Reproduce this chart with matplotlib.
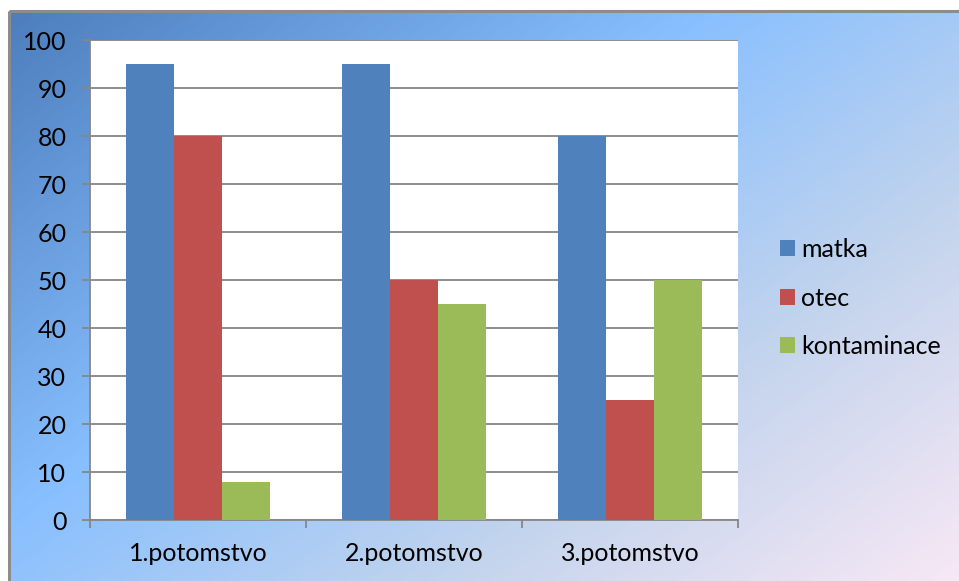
import numpy as np
import matplotlib
matplotlib.use("Agg")
import matplotlib.pyplot as plt
from matplotlib.colors import LinearSegmentedColormap

plt.rcParams['font.family'] = ['Lato', 'DejaVu Sans']

# data
categories = ["1.potomstvo", "2.potomstvo", "3.potomstvo"]
series     = ["matka", "otec", "kontaminace"]
matka       = [95, 95, 80]
otec        = [80, 50, 25]
kontaminace = [8, 45, 50]
colors = ["#4F81BD", "#C0504D", "#9BBB59"]

W, H = 959, 581
fig = plt.figure(figsize=(W / 100, H / 100), dpi=100)
fig.patch.set_facecolor("white")

# background gradient (whole chart box)
bg = fig.add_axes([0, 0, 1, 1], zorder=-1)
bg.set_xlim(0, W)
bg.set_ylim(H, 0)
bg.axis("off")
yy, xx = np.mgrid[0:H, 0:W]
t = (xx / W * 0.55 + yy / H * 0.45)
cmap = LinearSegmentedColormap.from_list("bg", [
    (0.0, (0.30, 0.49, 0.74)),
    (0.40, (0.53, 0.75, 1.0)),
    (0.70, (0.76, 0.83, 0.93)),
    (1.0, (0.97, 0.91, 0.96)),
])
bg.imshow(t, cmap=cmap, extent=(9, W, H, 11), aspect="auto", vmin=0, vmax=1)
bg.plot([9, 9], [H, 11], color="#8C8C8C", lw=2.2, solid_capstyle="butt")
bg.plot([9, W], [11, 11], color="#8C8C8C", lw=2.2, solid_capstyle="butt")

# plot area
ax = fig.add_axes([90 / W, (H - 520) / H, 648 / W, 480 / H])
ax.set_facecolor("white")

x = np.arange(len(categories))
bw = 1 / 4.5
for i, (name, vals) in enumerate(zip(series, [matka, otec, kontaminace])):
    ax.bar(x + (i - 1) * bw, vals, bw, color=colors[i], label=name, zorder=3)

ax.set_xlim(-0.5, len(categories) - 0.5)
ax.set_ylim(0, 100)
ax.set_yticks(range(0, 101, 10))
ax.grid(axis="y", color="#868686", lw=1.3, zorder=1)
ax.set_xticks(x)
ax.set_xticklabels(categories)
ax.set_xticks(np.arange(-0.5, len(categories)), minor=True)
ax.tick_params(axis="x", which="major", length=0, pad=16, labelsize=18)
ax.tick_params(axis="x", which="minor", length=6, width=1.3, color="#868686")
ax.tick_params(axis="y", length=6, width=1.3, color="#868686", pad=11, labelsize=18)

for s in ["top", "right"]:
    ax.spines[s].set_visible(False)
for s in ["left", "bottom"]:
    ax.spines[s].set_color("#868686")
    ax.spines[s].set_linewidth(1.3)

ax.legend(loc="center left", bbox_to_anchor=(770 / W, 1 - 298 / H),
          bbox_transform=fig.transFigure, frameon=False, fontsize=18,
          borderaxespad=0, handlelength=0.6, handleheight=0.6,
          handletextpad=0.25, labelspacing=1.02)

fig.savefig("out.png", dpi=100)
